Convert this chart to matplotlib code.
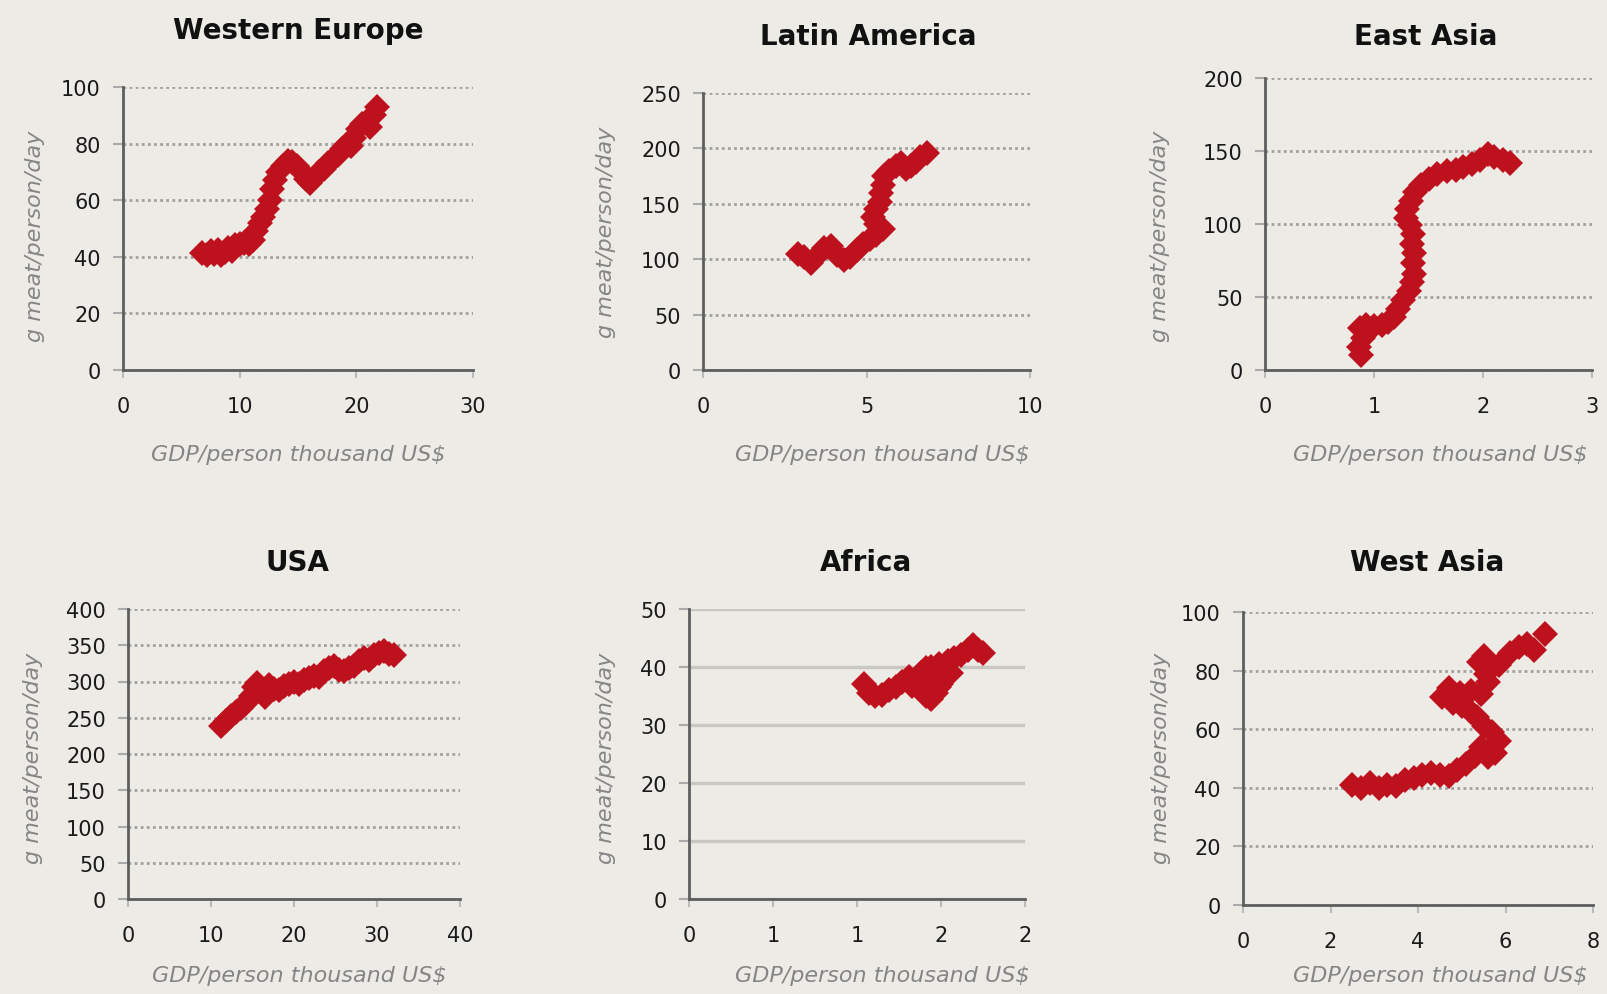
import matplotlib
matplotlib.use("Agg")
import matplotlib.pyplot as plt

plt.rcParams['font.family'] = ['DejaVu Sans']

BG = '#EDEBE6'
RED = '#BE111E'
AXIS = '#5E5E5E'
GRID = '#A0A0A0'

# ---- data: GDP per person (thousand US$) vs meat consumption (g/person/day)
regions = ['Western Europe', 'Latin America', 'East Asia', 'USA', 'Africa', 'West Asia']

we_gdp = [6.8, 7.2, 7.5, 7.8, 8.1, 8.4, 8.7, 9.0, 9.3, 9.6, 10.0, 10.4, 10.8, 11.1, 11.4,
          11.7, 12.0, 12.3, 12.6, 12.8, 13.0, 13.3, 13.7, 14.1, 14.5, 14.9, 15.3, 15.7,
          16.0, 16.4, 16.8, 17.2, 17.6, 18.0, 18.4, 18.8, 19.2, 19.5, 19.8, 20.1, 20.5,
          20.9, 21.2, 21.5, 21.8]
we_meat = [41.5, 40.5, 42.0, 41.0, 42.5, 40.8, 41.8, 43.0, 42.0, 44.0, 44.5, 45.0, 44.5,
           46.0, 49.0, 52.0, 54.0, 57.0, 60.0, 64.0, 67.0, 70.0, 72.0, 74.0, 73.5, 72.0,
           70.0, 67.5, 66.0, 68.0, 70.0, 71.0, 73.0, 74.5, 76.0, 78.0, 80.0, 79.0, 82.0,
           85.0, 87.0, 88.0, 86.0, 90.0, 93.0]

la_gdp = [2.9, 3.1, 3.3, 3.5, 3.7, 3.9, 4.1, 4.3, 4.5, 4.7, 4.9, 5.1, 5.3, 5.5, 5.3,
          5.2, 5.3, 5.4, 5.45, 5.5, 5.55, 5.7, 5.9, 6.05, 6.2, 6.35, 6.5, 6.65, 6.85]
la_meat = [105, 102, 97, 103, 110, 112, 104, 99, 102, 108, 114, 118, 122, 127, 132,
           138, 145, 152, 160, 167, 175, 180, 184, 187, 181, 184, 188, 192, 196]

ea_gdp = [0.88, 0.86, 0.90, 0.87, 0.93, 1.00, 1.07, 1.13, 1.18, 1.22, 1.27, 1.32, 1.35,
          1.37, 1.36, 1.37, 1.35, 1.36, 1.33, 1.29, 1.30, 1.34, 1.38, 1.43, 1.50, 1.58,
          1.67, 1.75, 1.82, 1.90, 1.97, 2.05, 2.10, 2.18, 2.25]
ea_meat = [10, 16, 22, 29, 31, 30, 31, 33, 36, 42, 48, 54, 60, 66, 73, 80, 86, 93, 99,
           104, 110, 116, 122, 127, 131, 134, 136, 137, 139, 141, 144, 148, 146, 144, 142]

us_gdp = [11.2, 11.8, 12.4, 13.0, 13.6, 14.2, 14.8, 15.2, 15.6, 16.0, 16.5, 17.0, 17.6,
          18.2, 18.8, 19.4, 20.0, 20.6, 21.2, 21.8, 22.4, 23.0, 23.6, 24.2, 24.8, 25.4,
          26.0, 26.6, 27.2, 27.8, 28.4, 29.0, 29.6, 30.2, 30.8, 31.4, 32.0]
us_meat = [238, 245, 252, 258, 264, 270, 280, 292, 298, 288, 278, 295, 290, 288, 294,
           297, 300, 296, 302, 305, 308, 306, 314, 318, 322, 316, 314, 318, 322, 328,
           333, 330, 336, 340, 342, 338, 336]

af_gdp = [1.04, 1.07, 1.11, 1.15, 1.19, 1.23, 1.27, 1.31, 1.35, 1.38, 1.41, 1.44, 1.47,
          1.50, 1.53, 1.46, 1.42, 1.38, 1.44, 1.49, 1.54, 1.58, 1.62, 1.66, 1.69, 1.72,
          1.75, 1.48, 1.45, 1.40, 1.36, 1.43, 1.51, 1.47, 1.40, 1.52, 1.56, 1.33, 1.44,
          1.49, 1.41]
af_meat = [37.0, 35.5, 35.0, 35.2, 36.0, 36.5, 37.5, 38.2, 37.5, 36.5, 35.0, 34.5, 35.5,
           37.0, 38.5, 39.0, 38.5, 39.0, 40.0, 40.5, 41.0, 41.5, 42.0, 43.0, 43.8, 43.0,
           42.5, 37.5, 37.0, 37.0, 38.0, 36.0, 39.5, 39.5, 38.0, 40.0, 39.0, 36.8, 38.5,
           36.5, 39.8]

wa_gdp = [2.5, 2.7, 2.9, 3.1, 3.3, 3.5, 3.7, 3.9, 4.1, 4.3, 4.5, 4.7, 4.9, 5.1, 5.3,
          5.45, 5.6, 5.75, 5.85, 5.7, 5.5, 5.35, 5.2, 5.0, 4.8, 4.55, 4.7, 4.95, 5.2,
          5.45, 5.6, 5.55, 5.4, 5.5, 5.85, 6.1, 6.3, 6.5, 6.65, 6.9]
wa_meat = [41.0, 40.0, 41.5, 40.0, 41.0, 40.5, 42.5, 43.5, 44.5, 45.0, 44.5, 44.0, 46.0,
           48.0, 51.0, 54.0, 50.5, 52.0, 56.0, 59.0, 61.0, 64.0, 66.0, 68.0, 69.0, 71.0,
           74.0, 72.5, 73.0, 72.0, 76.0, 79.0, 83.0, 85.0, 82.0, 86.0, 88.0, 89.0, 87.0,
           92.5]

# axis ticks per panel
we_xticks, we_yticks = [0, 10, 20, 30], [0, 20, 40, 60, 80, 100]
la_xticks, la_yticks = [0, 5, 10], [0, 50, 100, 150, 200, 250]
ea_xticks, ea_yticks = [0, 1, 2, 3], [0, 50, 100, 150, 200]
us_xticks, us_yticks = [0, 10, 20, 30, 40], [0, 50, 100, 150, 200, 250, 300, 350, 400]
af_xticks, af_yticks = [0, 0.5, 1.0, 1.5, 2.0], [0, 10, 20, 30, 40, 50]
af_xticklabels = ['0', '1', '1', '2', '2']
wa_xticks, wa_yticks = [0, 2, 4, 6, 8], [0, 20, 40, 60, 80, 100]

x_label = 'GDP/person thousand US$'
y_label = 'g meat/person/day'

W, H = 1607, 995
fig = plt.figure(figsize=(W / 100, H / 100), dpi=100, facecolor=BG)

# panel boxes in pixels: left, right, top, bottom
boxes = [
    (123, 473, 88, 371),
    (703, 1030, 94, 371),
    (1265, 1592, 79, 371),
    (128, 460, 610, 900),
    (689, 1025, 610, 900),
    (1243, 1593, 613, 906),
]
title_pos = [(298, 39), (868, 45), (1426, 45), (297, 571), (866, 571), (1427, 571)]
ylabel_pos = [(35, 236), (606, 232), (1160, 236), (33, 758), (606, 758), (1161, 758)]
xlabel_pos = [(298, 461), (882, 461), (1440, 461), (299, 982), (882, 982), (1440, 982)]

panels = [
    (we_gdp, we_meat, we_xticks, we_yticks, None, 'dotted'),
    (la_gdp, la_meat, la_xticks, la_yticks, None, 'dotted'),
    (ea_gdp, ea_meat, ea_xticks, ea_yticks, None, 'dotted'),
    (us_gdp, us_meat, us_xticks, us_yticks, None, 'dotted'),
    (af_gdp, af_meat, af_xticks, af_yticks, af_xticklabels, 'solid'),
    (wa_gdp, wa_meat, wa_xticks, wa_yticks, None, 'dotted'),
]

for i, (box, panel) in enumerate(zip(boxes, panels)):
    l, r, t, b = box
    xs, ys, xt, yt, xtl, gstyle = panel
    ax = fig.add_axes([l / W, 1 - b / H, (r - l) / W, (b - t) / H])
    ax.set_facecolor('none')
    ax.set_xlim(xt[0], xt[-1])
    ax.set_ylim(yt[0], yt[-1])
    ax.set_xticks(xt)
    ax.set_yticks(yt)
    if xtl is not None:
        ax.set_xticklabels(xtl)
    for side in ('top', 'right'):
        ax.spines[side].set_visible(False)
    for side in ('left', 'bottom'):
        ax.spines[side].set_color(AXIS)
        ax.spines[side].set_linewidth(2.0)
    ax.tick_params(axis='y', length=7, width=1.5, color='#AAAAAA', pad=9,
                   labelsize=15, labelcolor='#1A1A1A')
    ax.tick_params(axis='x', length=6, width=1.5, color='#BBBBBB', pad=13,
                   labelsize=15, labelcolor='#1A1A1A')
    if gstyle == 'dotted':
        ax.grid(axis='y', color=GRID, linestyle=(0, (1, 1.2)), linewidth=2.0)
    else:
        ax.grid(axis='y', color='#C9C7C2', linestyle='-', linewidth=2.4)
    ax.set_axisbelow(True)
    ax.plot(xs, ys, linestyle='none', marker='D', markersize=13,
            color=RED, markeredgewidth=0, clip_on=False, zorder=3)

    tx, ty = title_pos[i]
    fig.text(tx / W, 1 - ty / H, regions[i], ha='center', va='baseline',
             fontsize=20, fontweight='bold', color='#111111')
    yx, yy = ylabel_pos[i]
    fig.text(yx / W, 1 - yy / H, y_label, ha='center', va='center', rotation=90,
             fontsize=16, style='italic', color='#858585')
    xx, xy = xlabel_pos[i]
    fig.text(xx / W, 1 - xy / H, x_label, ha='center', va='baseline',
             fontsize=16, style='italic', color='#858585')

fig.savefig('out.png', dpi=100, facecolor=BG)
